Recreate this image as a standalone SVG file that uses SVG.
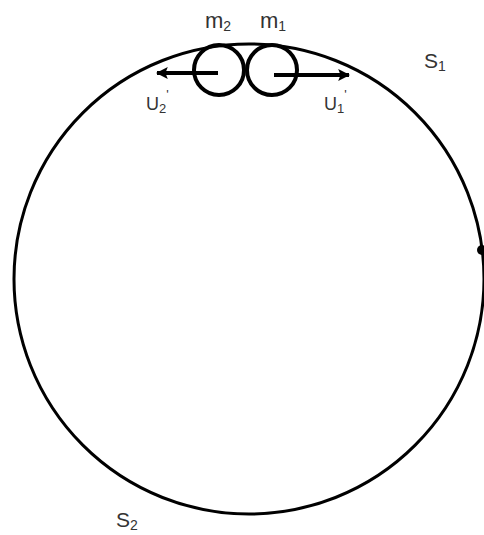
<svg xmlns="http://www.w3.org/2000/svg" width="484" height="535" viewBox="0 0 484 535">
<style>
.ln{fill:none;stroke:#000;stroke-width:3}
.sm{fill:none;stroke:#000;stroke-width:4}
.t{font-family:"Liberation Sans",Arial,sans-serif;fill:#333}
</style>
<defs>
<marker id="ah" markerWidth="12" markerHeight="12" refX="9" refY="5" orient="auto" markerUnits="userSpaceOnUse" viewBox="0 0 10 10">
<path d="M0,0 L10,5 L0,10 L2,5 Z" fill="#000"/>
</marker>
</defs>
<rect width="484" height="535" fill="#fff"/>
<g id="track">
<circle class="ln" cx="249" cy="279" r="235"/>
<circle cx="482" cy="250" r="5" fill="#000"/>
</g>
<g id="m2">
<circle class="sm" cx="219" cy="70" r="25"/>
<text class="t" x="205" y="28" font-size="22">m<tspan font-size="14" dy="3">2</tspan></text>
</g>
<g id="m1">
<circle class="sm" cx="272" cy="70" r="25"/>
<text class="t" x="260" y="28" font-size="22">m<tspan font-size="14" dy="3">1</tspan></text>
</g>
<g id="connectors">
<line class="sm" x1="218" y1="73" x2="157" y2="73" marker-end="url(#ah)"/>
<line class="sm" x1="274" y1="75" x2="349" y2="75" marker-end="url(#ah)"/>
</g>
<g id="labels">
<text class="t" x="146" y="110" font-size="18">U<tspan font-size="13" dy="3">2</tspan><tspan font-size="13" dy="-14">'</tspan></text>
<text class="t" x="324" y="110" font-size="18">U<tspan font-size="13" dy="3">1</tspan><tspan font-size="13" dy="-14">'</tspan></text>
<text class="t" x="424" y="68" font-size="21">S<tspan font-size="14" dy="3">1</tspan></text>
<text class="t" x="116" y="527" font-size="21">S<tspan font-size="14" dy="3">2</tspan></text>
</g>
</svg>
